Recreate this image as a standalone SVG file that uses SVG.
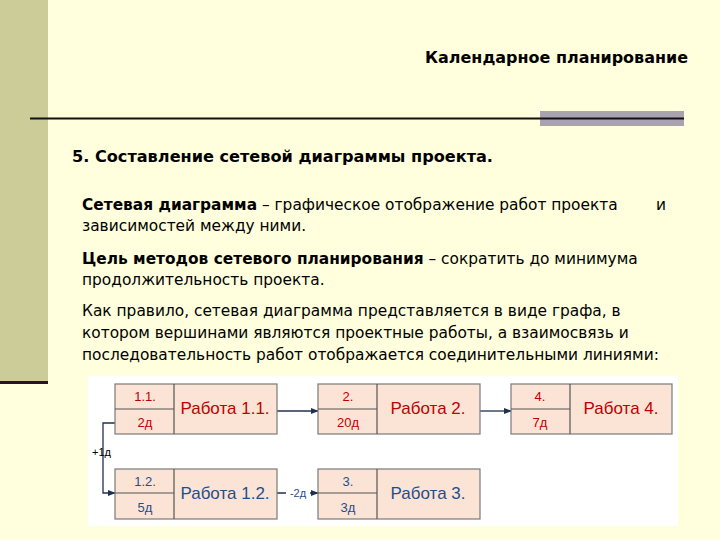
<svg xmlns="http://www.w3.org/2000/svg" width="720" height="540" viewBox="0 0 720 540">
<defs>
<marker id="ar" viewBox="0 0 10 10" refX="9" refY="5" markerWidth="6" markerHeight="6" orient="auto"><path d="M0,1 L10,5 L0,9 z" fill="#1f3050"/></marker>
</defs>
<style>
text{font-family:"Liberation Sans",Arial,sans-serif;}
.h{font-family:"DejaVu Sans",sans-serif;font-weight:bold;font-size:15.5px;fill:#000}
.b{font-family:"DejaVu Sans",sans-serif;font-size:15.4px;fill:#000}
.box rect{fill:#fbe4d5;stroke:#7a7a7a;stroke-width:1.2}
.box line{stroke:#555;stroke-width:1.2}
.s{font-size:13px;text-anchor:middle}
.n{font-size:17px;text-anchor:middle}
.red{fill:#c00000}.blue{fill:#1f4e8c}
.c{fill:none;stroke:#1f3050;stroke-width:1.3}
</style>
<rect width="720" height="540" fill="#ffffdd"/>
<rect x="0" y="0" width="48" height="382" fill="#cccc99"/>
<rect x="0" y="381" width="48" height="3" fill="#2a1030"/>
<rect x="540" y="111" width="144" height="15" fill="#a9a3b0"/>
<line x1="30" y1="118.5" x2="684" y2="118.5" stroke="#111" stroke-width="2"/>
<text class="h" x="688" y="63" text-anchor="end" textLength="263" lengthAdjust="spacingAndGlyphs">Календарное планирование</text>
<text class="h" x="72" y="162" textLength="421" lengthAdjust="spacingAndGlyphs">5. Составление сетевой диаграммы проекта.</text>
<text class="b" x="82" y="210"><tspan font-weight="bold">Сетевая диаграмма</tspan> – графическое отображение работ проекта</text>
<text class="b" x="656" y="210">и</text>
<text class="b" x="82" y="231">зависимостей между ними.</text>
<text class="b" x="82" y="264"><tspan font-weight="bold">Цель методов сетевого планирования</tspan> – сократить до минимума</text>
<text class="b" x="82" y="285">продолжительность проекта.</text>
<text class="b" x="82" y="316">Как правило, сетевая диаграмма представляется в виде графа, в</text>
<text class="b" x="82" y="338">котором вершинами являются проектные работы, а взаимосвязь и</text>
<text class="b" x="82" y="360">последовательность работ отображается соединительными линиями:</text>
<rect x="88" y="376" width="590" height="150" fill="#ffffff"/>
<g id="connectors">
<path class="c" d="M277,411 H318" marker-end="url(#ar)"/>
<path class="c" d="M480,411 H511" marker-end="url(#ar)"/>
<path class="c" d="M115,423 H103 V493 H115" marker-end="url(#ar)"/>
<path class="c" d="M277,493 H286 M310,493 H318" marker-end="url(#ar)"/>
<text x="92" y="456" font-size="11" fill="#000">+1д</text>
<text x="298" y="497" font-size="11" fill="#1f4e8c" text-anchor="middle">-2д</text>
</g>
<g id="n11" class="box"><rect x="115" y="384" width="162" height="50"/><line x1="174" y1="384" x2="174" y2="434"/><line x1="115" y1="409" x2="174" y2="409"/>
<text class="s red" x="145" y="401">1.1.</text><text class="s red" x="145" y="427">2д</text><text class="n red" x="225" y="414">Работа 1.1.</text></g>
<g id="n2" class="box"><rect x="318" y="384" width="162" height="50"/><line x1="377" y1="384" x2="377" y2="434"/><line x1="318" y1="409" x2="377" y2="409"/>
<text class="s red" x="348" y="401">2.</text><text class="s red" x="348" y="427">20д</text><text class="n red" x="428" y="414">Работа 2.</text></g>
<g id="n4" class="box"><rect x="511" y="384" width="161" height="50"/><line x1="570" y1="384" x2="570" y2="434"/><line x1="511" y1="409" x2="570" y2="409"/>
<text class="s red" x="540" y="401">4.</text><text class="s red" x="540" y="427">7д</text><text class="n red" x="621" y="414">Работа 4.</text></g>
<g id="n12" class="box"><rect x="115" y="469" width="162" height="50"/><line x1="174" y1="469" x2="174" y2="519"/><line x1="115" y1="493" x2="174" y2="493"/>
<text class="s blue" x="145" y="486">1.2.</text><text class="s blue" x="145" y="512">5д</text><text class="n blue" x="225" y="499">Работа 1.2.</text></g>
<g id="n3" class="box"><rect x="318" y="469" width="162" height="50"/><line x1="377" y1="469" x2="377" y2="519"/><line x1="318" y1="493" x2="377" y2="493"/>
<text class="s blue" x="348" y="486">3.</text><text class="s blue" x="348" y="512">3д</text><text class="n blue" x="428" y="499">Работа 3.</text></g>
</svg>
